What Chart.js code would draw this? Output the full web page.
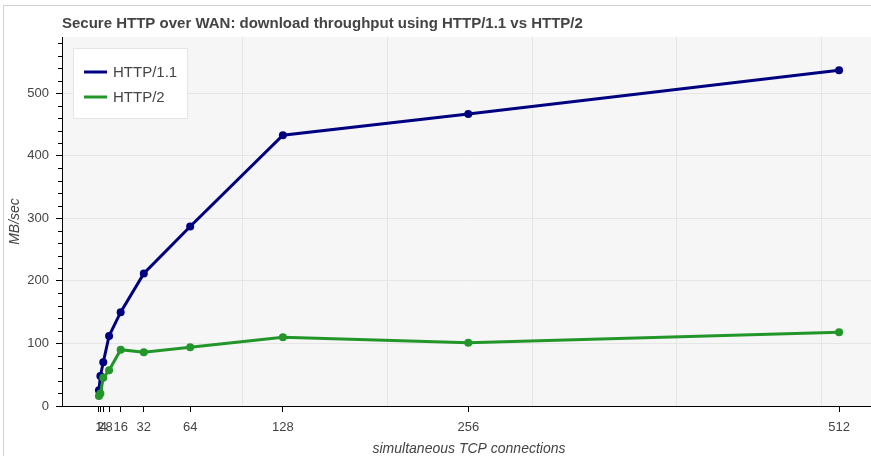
<!DOCTYPE html>
<html lang="en">
<head>
    <meta charset="UTF-8">
    <title>Secure HTTP over WAN</title>
    <style>
        body { margin: 0; overflow: hidden; background: #fff; font-family: 'Liberation Sans', Arial, sans-serif; }
        #frame {
            position: absolute;
            left: 3px; top: 5px;
            width: 900px; height: 470px;
            border-left: 1px solid #d2d2d2;
            border-top: 1px solid #d2d2d2;
        }
        #chart { position: absolute; left: 0; top: 0; }
    </style>
    <script src="https://cdn.jsdelivr.net/npm/chart.js@4.4.1/dist/chart.umd.min.js"></script>
</head>
<body>

<div id="frame"></div>
<canvas id="chart" width="880" height="459"></canvas>

<script>
    const connections = [1, 2, 4, 8, 16, 32, 64, 128, 256, 512];
    const http11 = [25, 48, 70, 112, 150, 212, 287, 433, 467, 537];
    const http2 = [16, 20, 45, 57, 90, 86, 94, 110, 101, 118];
    const xTicks = [1, 2, 4, 8, 16, 32, 64, 128, 256, 512];
    const yTicks = [0, 100, 200, 300, 400, 500];

    const FONT = "'Liberation Sans', Arial, sans-serif";
    const BLUE = '#000080';
    const GREEN = '#23962a';

    const toPoints = vals => connections.map((c, i) => ({ x: c, y: vals[i] }));

    // plot background, minor y ticks and the legend box
    const bokehBits = {
        id: 'bokehBits',
        beforeDraw(chart) {
            const a = chart.chartArea, ctx = chart.ctx;
            ctx.save();
            ctx.fillStyle = '#f6f6f6';
            ctx.fillRect(a.left, a.top, a.right - a.left, a.bottom - a.top);
            ctx.restore();
        },
        afterDraw(chart) {
            const ctx = chart.ctx, y = chart.scales.y, a = chart.chartArea;
            ctx.save();
            ctx.strokeStyle = '#000';
            ctx.lineWidth = 1;
            for (let v = 20; v < 590; v += 20) {
                if (v % 100 === 0) continue;
                const py = Math.round(y.getPixelForValue(v)) + 0.5;
                ctx.beginPath();
                ctx.moveTo(a.left - 4, py);
                ctx.lineTo(a.left, py);
                ctx.stroke();
            }
            // legend
            ctx.fillStyle = '#fff';
            ctx.fillRect(73, 48, 114, 70);
            ctx.strokeStyle = '#e5e5e5';
            ctx.strokeRect(73.5, 48.5, 114, 70);
            ctx.font = '15px ' + FONT;
            ctx.textBaseline = 'middle';
            chart.data.datasets.forEach((ds, i) => {
                const ly = 72 + i * 25;
                ctx.strokeStyle = ds.borderColor;
                ctx.lineWidth = 3;
                ctx.beginPath();
                ctx.moveTo(84, ly);
                ctx.lineTo(107, ly);
                ctx.stroke();
                ctx.fillStyle = '#444';
                ctx.fillText(ds.label, 113, ly + 0.5);
            });
            ctx.restore();
        }
    };

    new Chart(document.getElementById('chart'), {
        type: 'line',
        data: {
            datasets: [
                {
                    label: 'HTTP/1.1',
                    data: toPoints(http11),
                    borderColor: BLUE,
                    backgroundColor: BLUE,
                    borderWidth: 3,
                    pointRadius: 4,
                    pointBorderWidth: 0,
                    order: 2
                },
                {
                    label: 'HTTP/2',
                    data: toPoints(http2),
                    borderColor: GREEN,
                    backgroundColor: GREEN,
                    borderWidth: 3,
                    pointRadius: 4,
                    pointBorderWidth: 0,
                    order: 1
                }
            ]
        },
        options: {
            responsive: false,
            animation: false,
            devicePixelRatio: 1,
            layout: { padding: { left: 0, right: 3, top: 0, bottom: 0 } },
            plugins: {
                legend: { display: false },
                tooltip: { enabled: false },
                title: {
                    display: true,
                    text: 'Secure HTTP over WAN: download throughput using HTTP/1.1 vs HTTP/2',
                    align: 'start',
                    fullSize: false,
                    color: '#444',
                    font: { family: FONT, size: 15, weight: 'bold' },
                    padding: { top: 15, bottom: 4 }
                }
            },
            scales: {
                x: {
                    type: 'linear',
                    position: 'bottom',
                    min: -24.5,
                    max: 537.5,
                    afterBuildTicks: s => { s.ticks = xTicks.map(v => ({ value: v })); },
                    afterFit: s => { s.height = 53; },
                    ticks: {
                        autoSkip: false,
                        maxRotation: 0,
                        minRotation: 0,
                        padding: 8,
                        color: '#444',
                        font: { family: FONT, size: 13 },
                        callback: v => String(v)
                    },
                    grid: { drawOnChartArea: false, tickLength: 6, tickColor: '#000' },
                    border: { color: '#000' },
                    title: {
                        display: true,
                        text: 'simultaneous TCP connections',
                        color: '#444',
                        font: { family: FONT, size: 14, style: 'italic' },
                        padding: { top: 0, bottom: 1 }
                    }
                },
                xg: {
                    type: 'linear',
                    position: 'bottom',
                    min: -24.5,
                    max: 537.5,
                    afterFit: s => { s.height = 0; },
                    ticks: { display: false, stepSize: 100 },
                    grid: { color: '#e5e5e5', drawTicks: false },
                    border: { display: false }
                },
                y: {
                    type: 'linear',
                    min: 0,
                    max: 590,
                    afterBuildTicks: s => { s.ticks = yTicks.map(v => ({ value: v })); },
                    afterFit: s => { s.width = 62; },
                    ticks: {
                        padding: 7,
                        color: '#444',
                        font: { family: FONT, size: 13 }
                    },
                    grid: { color: '#e5e5e5', tickLength: 6, tickColor: '#000' },
                    border: { color: '#000' },
                    title: {
                        display: true,
                        text: 'MB/sec',
                        color: '#444',
                        font: { family: FONT, size: 14, style: 'italic' },
                        padding: { top: 7, bottom: 0 }
                    }
                }
            }
        },
        plugins: [bokehBits]
    });
</script>

</body>
</html>
